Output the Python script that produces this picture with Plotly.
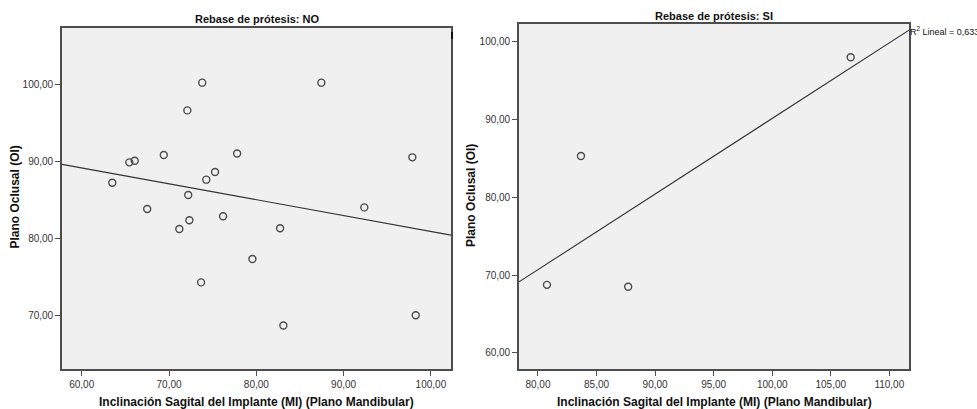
import numpy as np
import plotly.graph_objects as go

# Inclinación sagital del implante (x) vs plano oclusal (y), por grupo de rebase
no_x = [73.8, 87.45, 72.1, 63.5, 65.45, 66.07, 69.4, 77.8, 97.87, 75.27, 74.27,
        72.2, 67.5, 92.37, 71.18, 72.33, 76.19, 82.72, 79.55, 73.67, 83.1, 98.26]
no_y = [100.2, 100.2, 96.6, 87.2, 89.85, 90.05, 90.8, 91.0, 90.5, 88.6, 87.6,
        85.6, 83.8, 84.0, 81.2, 82.33, 82.85, 81.3, 77.3, 74.26, 68.66, 70.0]

si_x = [106.7, 83.67, 80.77, 87.7]
si_y = [98.0, 85.3, 68.75, 68.5]

r2_label_si = "0,633"

titles = ["Rebase de prótesis: NO", "Rebase de prótesis: SI"]
x_title = "Inclinación Sagital del Implante (MI) (Plano Mandibular)"
y_title = "Plano Oclusal (Ol)"

no_xticks = [60, 70, 80, 90, 100]
no_yticks = [70, 80, 90, 100]
si_xticks = [80, 85, 90, 95, 100, 105, 110]
si_yticks = [60, 70, 80, 90, 100]

no_xrange = [57.74, 102.3]
no_yrange = [62.97, 107.3]
si_xrange = [78.38, 111.68]
si_yrange = [57.9, 102.27]

W, H = 977, 409
FONT = "Liberation Sans, Arial, sans-serif"
AX = "#4d4d4d"
MK = "#4a4a4a"


def fit_line(xs, ys, xr):
    b, a = np.polyfit(xs, ys, 1)
    lx = np.array(xr)
    return lx, a + b * lx


fig = go.Figure()

for xs, ys, xr, xa, ya in [(no_x, no_y, no_xrange, "x", "y"),
                           (si_x, si_y, si_xrange, "x2", "y2")]:
    lx, ly = fit_line(xs, ys, xr)
    fig.add_trace(go.Scatter(x=lx, y=ly, mode="lines", xaxis=xa, yaxis=ya,
                             line=dict(color="#333333", width=1.1),
                             hoverinfo="skip", showlegend=False))
    fig.add_trace(go.Scatter(x=xs, y=ys, mode="markers", xaxis=xa, yaxis=ya,
                             marker=dict(symbol="circle-open", size=7,
                                         color=MK, line=dict(width=1.4, color=MK)),
                             showlegend=False))


def px_x(p):
    return p / W


def px_y(p):
    return 1 - p / H


common_axis = dict(showline=True, linecolor=AX, linewidth=1.6, mirror=True,
                   showgrid=False, zeroline=False, ticks="outside", ticklen=5,
                   tickwidth=1, tickcolor=AX, tickformat=".2f",
                   tickfont=dict(family=FONT, size=10, color="#333333"))

fig.update_layout(
    width=W, height=H,
    margin=dict(l=0, r=0, t=0, b=0),
    paper_bgcolor="white",
    plot_bgcolor="#f0f0f0",
    separators=",.",
    showlegend=False,
    xaxis=dict(domain=[px_x(62), px_x(451)], range=no_xrange, tickvals=no_xticks,
               anchor="y", **common_axis),
    yaxis=dict(domain=[px_y(369.3), px_y(28)], range=no_yrange, tickvals=no_yticks,
               anchor="x", **common_axis),
    xaxis2=dict(domain=[px_x(519), px_x(909)], range=si_xrange, tickvals=si_xticks,
                anchor="y2", **common_axis),
    yaxis2=dict(domain=[px_y(369.3), px_y(24)], range=si_yrange, tickvals=si_yticks,
                anchor="x2", **common_axis),
)

ann = []
# panel titles
for text, cx, cy in [(titles[0], 257, 19), (titles[1], 714, 16)]:
    ann.append(dict(text=f"<b>{text}</b>", x=px_x(cx), y=px_y(cy), xref="paper",
                    yref="paper", showarrow=False, xanchor="center", yanchor="middle",
                    font=dict(family=FONT, size=11, color="#111111")))
# axis titles
for cx, cy in [(256, 402), (714, 402)]:
    ann.append(dict(text=f"<b>{x_title}</b>", x=px_x(cx), y=px_y(cy), xref="paper",
                    yref="paper", showarrow=False, xanchor="center", yanchor="middle",
                    font=dict(family=FONT, size=12, color="#111111")))
for cx, cy in [(14.5, 197), (471, 196)]:
    ann.append(dict(text=f"<b>{y_title}</b>", x=px_x(cx), y=px_y(cy), xref="paper",
                    yref="paper", showarrow=False, xanchor="center", yanchor="middle",
                    textangle=-90,
                    font=dict(family=FONT, size=12, color="#111111")))
# R² label of the SI fit
ann.append(dict(text=f"R<sup>2</sup> Lineal = {r2_label_si}", x=px_x(908), y=px_y(31),
                xref="paper", yref="paper", showarrow=False, xanchor="left",
                yanchor="middle", font=dict(family=FONT, size=9, color="#111111")))
fig.update_layout(annotations=ann)

# edge of the NO panel's R² label, cut off just outside its frame
fig.add_shape(type="line", xref="paper", yref="paper",
              x0=px_x(452), x1=px_x(452), y0=px_y(32), y1=px_y(39),
              line=dict(color="#111111", width=2))

fig.write_html("out.html")
